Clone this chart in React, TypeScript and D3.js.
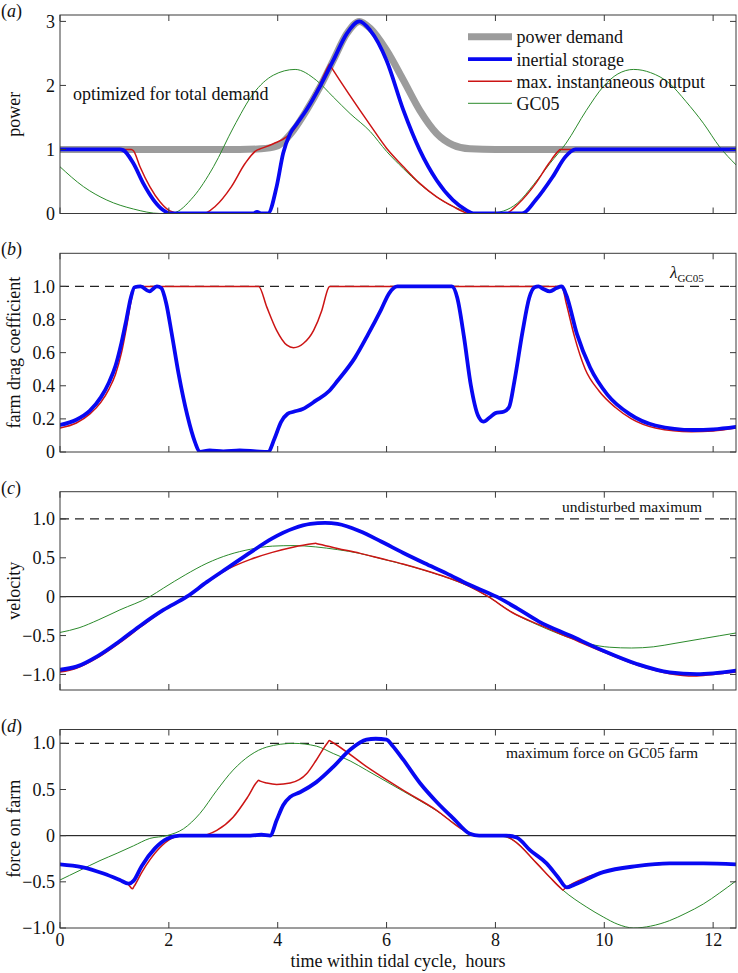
import React from 'react';
import * as d3 from 'd3';

type Pt = [number, number];

// ---------------- data (time in hours, value) ----------------
const xTickValues = [0, 2, 4, 6, 8, 10, 12];
const xTickLabels = ['0', '2', '4', '6', '8', '10', '12'];

// panel (a) power
const aPowerDemand: Pt[] = [[0,1],[3.3,1],[3.7,1.01],[3.98,1.05],[4.1,1.12],[4.29,1.3],[4.53,1.61],[4.78,1.98],[5.02,2.39],[5.27,2.81],[5.5,3.0],[5.7,2.89],[6.0,2.55],[6.31,2.08],[6.61,1.61],[6.92,1.25],[7.22,1.07],[7.53,1.01],[8,1],[12.42,1]];
const aInertial: Pt[] = [[0,1],[1.1,1],[1.16,0.99],[1.35,0.78],[1.53,0.47],[1.72,0.21],[1.9,0.05],[2.02,0],[3.55,0],[3.62,0.025],[3.7,0],[3.82,0],[3.98,0.42],[4.1,0.94],[4.23,1.25],[4.35,1.4],[4.53,1.62],[4.78,1.99],[5.02,2.39],[5.27,2.81],[5.5,3.0],[5.7,2.86],[6.0,2.39],[6.31,1.61],[6.61,0.99],[6.92,0.52],[7.22,0.21],[7.47,0.05],[7.59,0],[8.49,0],[8.74,0.21],[9.05,0.57],[9.29,0.89],[9.47,1.0],[12.42,1]];
const aMaxOutput: Pt[] = [[0,1],[1.31,1],[1.35,0.98],[1.47,0.73],[1.65,0.42],[1.84,0.18],[2.02,0.04],[2.2,0],[2.64,0],[2.85,0.11],[3.15,0.42],[3.4,0.78],[3.62,0.99],[3.65,1.0],[3.92,1.09],[4.17,1.2],[4.29,1.3],[4.53,1.64],[4.78,2.03],[4.93,2.3],[4.95,2.33],[4.98,2.29],[5.7,1.38],[6.0,1.02],[6.31,0.73],[6.61,0.47],[6.92,0.26],[7.22,0.11],[7.47,0.01],[7.55,0],[8.18,0],[8.43,0.16],[8.74,0.47],[8.98,0.78],[9.15,0.97],[9.19,1.0],[12.42,1]];
const aGC05: Pt[] = [[0,0.73],[0.43,0.42],[0.86,0.21],[1.35,0.07],[1.84,0.0],[2.08,0.01],[2.45,0.26],[2.82,0.73],[3.19,1.35],[3.55,1.87],[3.92,2.16],[4.32,2.25],[4.71,2.08],[5.02,1.82],[5.33,1.56],[5.7,1.28],[6.0,0.97],[6.31,0.7],[6.61,0.46],[6.92,0.26],[7.22,0.11],[7.5,0.03],[7.85,0],[8.15,0.04],[8.4,0.16],[8.7,0.45],[9.0,0.78],[9.3,1.1],[9.67,1.61],[9.98,1.98],[10.25,2.18],[10.54,2.25],[10.85,2.2],[11.2,2.03],[11.5,1.75],[11.82,1.41],[12.12,1.04],[12.42,0.76]];

// panel (b) farm drag coefficient
const bInertial: Pt[] = [[0,0.163],[0.3,0.195],[0.55,0.25],[0.75,0.33],[0.9,0.42],[1.02,0.52],[1.13,0.66],[1.22,0.8],[1.3,0.93],[1.37,0.995],[1.48,1.0],[1.64,0.97],[1.78,1.0],[1.86,0.99],[1.95,0.9],[2.05,0.72],[2.18,0.47],[2.34,0.22],[2.48,0.06],[2.57,0.0],[2.75,0.01],[3.0,0.004],[3.3,0.01],[3.6,0.004],[3.82,0.0],[3.94,0.08],[4.06,0.18],[4.18,0.23],[4.29,0.243],[4.46,0.26],[4.7,0.31],[4.95,0.37],[5.1,0.43],[5.42,0.57],[5.66,0.71],[5.9,0.86],[6.05,0.96],[6.2,1.0],[7.2,1.0],[7.3,0.93],[7.42,0.7],[7.55,0.4],[7.68,0.22],[7.78,0.183],[7.9,0.21],[8.0,0.235],[8.15,0.243],[8.25,0.27],[8.35,0.43],[8.5,0.73],[8.62,0.93],[8.72,0.995],[8.79,1.0],[8.88,0.985],[9.0,0.97],[9.12,0.99],[9.22,1.0],[9.3,0.95],[9.5,0.71],[9.74,0.51],[10.06,0.345],[10.46,0.23],[10.94,0.16],[11.64,0.133],[12.0,0.137],[12.42,0.152]];
const bMaxOutput: Pt[] = [[0,0.145],[0.3,0.175],[0.55,0.23],[0.75,0.3],[0.9,0.38],[1.02,0.47],[1.13,0.6],[1.22,0.75],[1.3,0.9],[1.36,0.99],[1.38,1.0],[3.65,1.0],[3.8,0.875],[3.98,0.735],[4.17,0.645],[4.29,0.63],[4.47,0.655],[4.66,0.735],[4.81,0.855],[4.93,0.99],[4.95,1.0],[9.22,1.0],[9.3,0.9],[9.45,0.7],[9.65,0.5],[9.9,0.37],[10.2,0.27],[10.5,0.2],[10.94,0.145],[11.6,0.122],[12.0,0.127],[12.42,0.145]];

// panel (c) velocity
const cInertial: Pt[] = [[0,-0.94],[0.3,-0.9],[0.7,-0.76],[1.1,-0.57],[1.5,-0.36],[1.9,-0.17],[2.33,0],[2.7,0.19],[3.1,0.38],[3.5,0.57],[3.9,0.75],[4.3,0.88],[4.6,0.935],[4.87,0.948],[5.1,0.935],[5.5,0.845],[5.9,0.71],[6.3,0.565],[6.7,0.43],[7.1,0.3],[7.5,0.16],[8.02,0],[8.4,-0.15],[8.8,-0.32],[9.37,-0.5],[9.98,-0.695],[10.6,-0.866],[11.2,-0.974],[11.7,-0.995],[12.0,-0.985],[12.42,-0.95]];
const cMaxOutput: Pt[] = [[0,-0.97],[0.3,-0.92],[0.7,-0.78],[1.1,-0.59],[1.5,-0.38],[1.9,-0.18],[2.35,0],[2.7,0.18],[3.1,0.36],[3.5,0.48],[3.9,0.57],[4.3,0.64],[4.67,0.684],[4.69,0.686],[4.72,0.682],[5.1,0.62],[5.5,0.56],[5.9,0.49],[6.3,0.42],[6.7,0.34],[7.1,0.25],[7.5,0.14],[7.87,0],[8.3,-0.2],[8.8,-0.36],[9.37,-0.53],[9.98,-0.71],[10.6,-0.88],[11.2,-0.99],[11.65,-1.02],[12.0,-1.0],[12.42,-0.97]];
const cGC05: Pt[] = [[0,-0.46],[0.35,-0.4],[0.7,-0.3],[1.1,-0.17],[1.65,0],[1.9,0.11],[2.3,0.28],[2.7,0.43],[3.1,0.54],[3.5,0.61],[3.9,0.65],[4.3,0.657],[4.7,0.64],[5.1,0.605],[5.5,0.558],[5.9,0.488],[6.3,0.418],[6.7,0.338],[7.1,0.248],[7.5,0.138],[7.87,0],[8.3,-0.2],[8.8,-0.37],[9.37,-0.53],[9.74,-0.61],[10.1,-0.65],[10.5,-0.66],[10.9,-0.645],[11.3,-0.6],[11.8,-0.54],[12.42,-0.467]];

// panel (d) force on farm
const dInertial: Pt[] = [[0,-0.31],[0.4,-0.34],[0.8,-0.41],[1.1,-0.48],[1.26,-0.52],[1.35,-0.49],[1.5,-0.33],[1.74,-0.14],[1.98,-0.03],[2.2,0],[3.5,0],[3.7,0.01],[3.86,0],[3.98,0.166],[4.1,0.33],[4.23,0.42],[4.41,0.47],[4.71,0.58],[5.02,0.745],[5.33,0.93],[5.63,1.04],[5.8,1.05],[6.0,1.04],[6.1,0.98],[6.31,0.82],[6.62,0.565],[6.92,0.365],[7.23,0.185],[7.53,0.02],[7.7,0],[8.2,0],[8.39,-0.02],[8.64,-0.16],[8.94,-0.3],[9.15,-0.45],[9.31,-0.56],[9.45,-0.53],[9.98,-0.395],[10.59,-0.33],[11.2,-0.3],[11.82,-0.3],[12.42,-0.31]];
const dMaxOutput: Pt[] = [[0,-0.31],[0.4,-0.34],[0.8,-0.41],[1.1,-0.48],[1.26,-0.53],[1.33,-0.576],[1.36,-0.55],[1.5,-0.4],[1.82,-0.14],[2.05,-0.03],[2.22,0],[2.57,0],[2.88,0.058],[3.18,0.2],[3.45,0.42],[3.63,0.59],[3.65,0.6],[3.68,0.59],[3.8,0.57],[3.98,0.555],[4.23,0.57],[4.53,0.67],[4.71,0.82],[4.92,1.01],[4.95,1.03],[4.98,1.02],[5.7,0.72],[6.31,0.49],[6.92,0.275],[7.41,0.06],[7.65,0],[8.15,0],[8.33,-0.05],[8.76,-0.3],[9.0,-0.45],[9.22,-0.58],[9.24,-0.59],[9.27,-0.575],[9.68,-0.45],[9.98,-0.4],[10.59,-0.335],[11.2,-0.305],[11.82,-0.3],[12.42,-0.31]];
const dGC05: Pt[] = [[0,-0.48],[0.35,-0.38],[0.735,-0.27],[1.05,-0.19],[1.35,-0.11],[1.65,-0.03],[1.96,0],[2.27,0.075],[2.57,0.24],[2.88,0.49],[3.18,0.71],[3.49,0.87],[3.8,0.96],[4.29,1.0],[4.71,0.97],[5.02,0.89],[5.33,0.81],[5.63,0.71],[6.31,0.48],[6.92,0.27],[7.41,0.07],[7.65,0.01],[7.9,0],[8.15,-0.01],[8.33,-0.05],[8.76,-0.3],[9.24,-0.59],[9.68,-0.775],[9.98,-0.88],[10.25,-0.96],[10.54,-1.0],[10.85,-0.98],[11.2,-0.92],[11.5,-0.84],[11.82,-0.74],[12.12,-0.62],[12.42,-0.49]];

const aTicks = [0, 1, 2, 3];
const bTicks = [0, 0.2, 0.4, 0.6, 0.8, 1.0];
const cTicks = [-1, -0.5, 0, 0.5, 1];
const dTicks = [-1, -0.5, 0, 0.5, 1];

const legendLabels = ['power demand', 'inertial storage', 'max. instantaneous output', 'GC05'];

// ---------------- styling / layout ----------------
const FONT = '"Liberation Serif", "Times New Roman", Times, serif';
const GRAY = '#9c9c9c';
const BLUE = '#0808f2';
const RED = '#cc1414';
const GREEN = '#2b8a2b';
const FRAME = '#3a3a3a';
const L = 60, R = 736;
const T_MAX = 12.42;

const x = d3.scaleLinear().domain([0, T_MAX]).range([L, R]);

type Series = { data: Pt[]; color: string; width: number };
type Panel = {
  key: string; tag: string; top: number; bottom: number; domain: [number, number];
  ticks: number[]; fmt: (v: number) => string; ylabel: string; series: Series[];
  dashed: boolean; zero: boolean;
};

const fmt1 = (v: number) => (v === 0 ? '0' : (v < 0 ? '\u2212' : '') + Math.abs(v).toFixed(1));

const panels: Panel[] = [
  { key: 'a', tag: 'a', top: 15, bottom: 213.5, domain: [0, 3.1], ticks: aTicks, fmt: (v) => String(v), ylabel: 'power',
    series: [
      { data: aPowerDemand, color: GRAY, width: 7 },
      { data: aGC05, color: GREEN, width: 1 },
      { data: aMaxOutput, color: RED, width: 1.5 },
      { data: aInertial, color: BLUE, width: 3.8 },
    ], dashed: false, zero: false },
  { key: 'b', tag: 'b', top: 253.3, bottom: 452, domain: [0, 1.2], ticks: bTicks, fmt: fmt1, ylabel: 'farm drag coefficient',
    series: [
      { data: bMaxOutput, color: RED, width: 1.5 },
      { data: bInertial, color: BLUE, width: 3.8 },
    ], dashed: true, zero: false },
  { key: 'c', tag: 'c', top: 491.7, bottom: 690, domain: [-1.2, 1.35], ticks: cTicks, fmt: fmt1, ylabel: 'velocity',
    series: [
      { data: cGC05, color: GREEN, width: 1 },
      { data: cMaxOutput, color: RED, width: 1.5 },
      { data: cInertial, color: BLUE, width: 3.8 },
    ], dashed: true, zero: true },
  { key: 'd', tag: 'd', top: 729.5, bottom: 928, domain: [-1, 1.15], ticks: dTicks, fmt: fmt1, ylabel: 'force on farm',
    series: [
      { data: dGC05, color: GREEN, width: 1 },
      { data: dMaxOutput, color: RED, width: 1.5 },
      { data: dInertial, color: BLUE, width: 3.8 },
    ], dashed: true, zero: true },
];

function PanelView({ p, last }: { p: Panel; last: boolean }) {
  const y = d3.scaleLinear().domain(p.domain).range([p.bottom, p.top]);
  const line = d3.line<Pt>().x((d) => x(d[0])).y((d) => y(d[1])).curve(d3.curveMonotoneX);
  const clipId = 'clip-' + p.key;
  const TL = 6;
  const mid = (p.top + p.bottom) / 2;
  return (
    <g>
      <defs>
        <clipPath id={clipId}>
          <rect x={L} y={p.top} width={R - L} height={p.bottom - p.top} />
        </clipPath>
      </defs>
      <g clipPath={`url(#${clipId})`}>
        {p.zero && <line x1={L} x2={R} y1={y(0)} y2={y(0)} stroke="#000" strokeWidth={1} />}
        {p.dashed && <line x1={L} x2={R} y1={y(1)} y2={y(1)} stroke="#222" strokeWidth={1.1} strokeDasharray="9,6" />}
        {p.series.map((s, i) => (
          <path key={i} d={line(s.data) || ''} fill="none" stroke={s.color} strokeWidth={s.width}
            strokeLinejoin="round" strokeLinecap="round" />
        ))}
      </g>
      <rect x={L} y={p.top} width={R - L} height={p.bottom - p.top} fill="none" stroke={FRAME} strokeWidth={1} />
      {xTickValues.map((t) => (
        <g key={'xt' + t}>
          <line x1={x(t)} x2={x(t)} y1={p.bottom} y2={p.bottom - TL} stroke={FRAME} />
          <line x1={x(t)} x2={x(t)} y1={p.top} y2={p.top + TL} stroke={FRAME} />
        </g>
      ))}
      {p.ticks.map((v) => (
        <g key={'yt' + v}>
          <line x1={L} x2={L + TL} y1={y(v)} y2={y(v)} stroke={FRAME} />
          <line x1={R} x2={R - TL} y1={y(v)} y2={y(v)} stroke={FRAME} />
          <text x={L - 5} y={y(v)} dy="0.34em" textAnchor="end" fontSize={18} fill="#111">{p.fmt(v)}</text>
        </g>
      ))}
      {last && xTickValues.map((t, i) => (
        <text key={'xl' + t} x={x(t)} y={p.bottom + 18} textAnchor="middle" fontSize={18} fill="#111">{xTickLabels[i]}</text>
      ))}
      <text transform={`translate(20,${mid}) rotate(-90)`} textAnchor="middle" fontSize={18} fill="#111">{p.ylabel}</text>
      <text x={1} y={p.top + 2} fontSize={18} fill="#111">(<tspan fontStyle="italic">{p.tag}</tspan>)</text>
    </g>
  );
}

export default function App() {
  const pa = panels[0];
  const ya = d3.scaleLinear().domain(pa.domain).range([pa.bottom, pa.top]);
  const pb = panels[1];
  const yb = d3.scaleLinear().domain(pb.domain).range([pb.bottom, pb.top]);
  const pc = panels[2];
  const yc = d3.scaleLinear().domain(pc.domain).range([pc.bottom, pc.top]);
  const pd = panels[3];
  const yd = d3.scaleLinear().domain(pd.domain).range([pd.bottom, pd.top]);
  const legendColors = [GRAY, BLUE, RED, GREEN];
  const legendWidths = [7, 3.8, 1.5, 1];
  const legendRowY = [36.7, 59.2, 81.2, 103.3];
  return (
    <svg width={738} height={973} style={{ position: 'absolute', left: 0, top: 0, background: '#fff' }}
      fontFamily={FONT}>
      <rect x={0} y={0} width={738} height={973} fill="#fff" />
      {panels.map((p, i) => <PanelView key={p.key} p={p} last={i === panels.length - 1} />)}
      {legendLabels.map((lab, i) => (
        <g key={lab}>
          <line x1={468} x2={512} y1={legendRowY[i]} y2={legendRowY[i]} stroke={legendColors[i]} strokeWidth={legendWidths[i]} />
          <text x={516.5} y={legendRowY[i] + 6.3} fontSize={18} fill="#111">{lab}</text>
        </g>
      ))}
      <text x={73} y={ya(1.77)} fontSize={18} fill="#111">optimized for total demand</text>
      <text x={670} y={yb(1.0) - 8} fontSize={17} fontStyle="italic" fill="#111">λ<tspan fontStyle="normal" fontSize={11} dy="4">GC05</tspan></text>
      <text x={702} y={yc(1.0) - 7} textAnchor="end" fontSize={15.5} fill="#111">undisturbed maximum</text>
      <text x={698} y={yd(1.0) + 15} textAnchor="end" fontSize={15.5} fill="#111">maximum force on GC05 farm</text>
      <text x={(L + R) / 2} y={967} textAnchor="middle" fontSize={18} fill="#111" style={{ whiteSpace: 'pre' }}>time within tidal cycle,  hours</text>
    </svg>
  );
}
